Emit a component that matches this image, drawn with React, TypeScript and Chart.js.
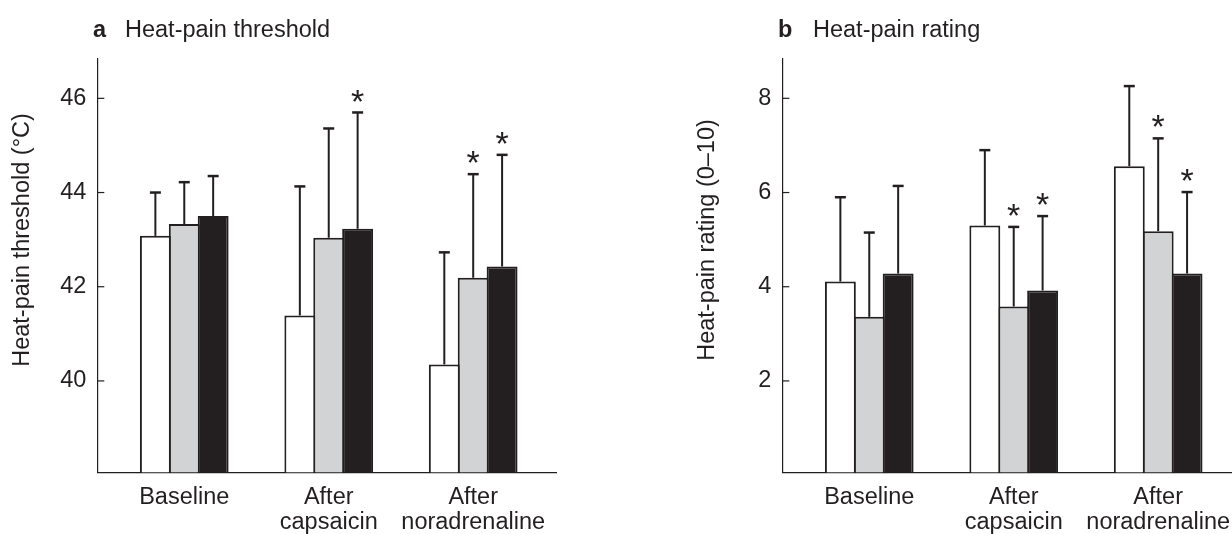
import React, { useEffect, useRef } from "react";
import { Chart, registerables } from "chart.js";

Chart.register(...registerables);

// ---------- data ----------
const categories = ["Baseline", "After capsaicin", "After noradrenaline"];
const categoryLines = [["Baseline"], ["After", "capsaicin"], ["After", "noradrenaline"]];
const seriesNames = ["White", "Grey", "Black"];

// Panel a: heat-pain threshold (°C), means and SDs
const thresholdWhite = [43.08, 41.39, 40.35];
const thresholdGrey = [43.33, 43.04, 42.19];
const thresholdBlack = [43.5, 43.23, 42.43];
const thresholdWhiteSD = [0.92, 2.74, 2.38];
const thresholdGreySD = [0.89, 2.32, 2.2];
const thresholdBlackSD = [0.85, 2.47, 2.37];
const thresholdWhiteSig = [false, false, false];
const thresholdGreySig = [false, false, true];
const thresholdBlackSig = [false, true, true];
const thresholdTicks = [40, 42, 44, 46];

// Panel b: heat-pain rating (0–10), means and SDs
const ratingWhite = [4.11, 5.3, 6.56];
const ratingGrey = [3.36, 3.58, 5.18];
const ratingBlack = [4.28, 3.92, 4.28];
const ratingWhiteSD = [1.79, 1.6, 1.7];
const ratingGreySD = [1.79, 1.69, 1.97];
const ratingBlackSD = [1.86, 1.58, 1.73];
const ratingWhiteSig = [false, false, false];
const ratingGreySig = [false, true, true];
const ratingBlackSig = [false, true, true];
const ratingTicks = [2, 4, 6, 8];

// ---------- style ----------
const INK = "#231f20";
const FILLS = ["#ffffff", "#d1d3d4", "#231f20"];
const FONT = '"Liberation Sans", Arial, Helvetica, sans-serif';
const FS = 23.5;

type PanelDef = {
  letter: string;
  title: string;
  yTitle: string;
  series: number[][];
  errors: number[][];
  sig: boolean[][];
  yTicks: number[];
  yMin: number;
  yMax: number;
  xMin: number;
  xMax: number;
  yAxisWidth: number;
  rightPad: number;
  letterX: number;
  titleX: number;
};

const panels: PanelDef[] = [
  {
    letter: "a",
    title: "Heat-pain threshold",
    yTitle: "Heat-pain threshold (\u00B0C)",
    series: [thresholdWhite, thresholdGrey, thresholdBlack],
    errors: [thresholdWhiteSD, thresholdGreySD, thresholdBlackSD],
    sig: [thresholdWhiteSig, thresholdGreySig, thresholdBlackSig],
    yTicks: thresholdTicks,
    yMin: 38.06,
    yMax: 46.85,
    xMin: -0.602,
    xMax: 2.578,
    yAxisWidth: 97.3,
    rightPad: 59.3,
    letterX: 93,
    titleX: 125,
  },
  {
    letter: "b",
    title: "Heat-pain rating",
    yTitle: "Heat-pain rating (0\u201310)",
    series: [ratingWhite, ratingGrey, ratingBlack],
    errors: [ratingWhiteSD, ratingGreySD, ratingBlackSD],
    sig: [ratingWhiteSig, ratingGreySig, ratingBlackSig],
    yTicks: ratingTicks,
    yMin: 0.06,
    yMax: 8.85,
    xMin: -0.602,
    xMax: 2.511,
    yAxisWidth: 166.3,
    rightPad: 0,
    letterX: 162,
    titleX: 197,
  },
];

const TOP = 58.3;
const BOTTOM = 472.3;
const W = 616;
const H = 534;

function makeDecor(p: PanelDef) {
  return {
    id: "decor",
    afterDatasetsDraw(chart: any) {
      const ctx = chart.ctx as CanvasRenderingContext2D;
      const ys = chart.scales.y;
      ctx.save();
      ctx.strokeStyle = INK;
      ctx.fillStyle = INK;
      chart.data.datasets.forEach((_ds: any, d: number) => {
        const meta = chart.getDatasetMeta(d);
        meta.data.forEach((bar: any, j: number) => {
          const mean = p.series[d][j];
          const top = ys.getPixelForValue(mean + p.errors[d][j]);
          const x = bar.x;
          ctx.lineWidth = 2;
          ctx.beginPath();
          ctx.moveTo(x, bar.y);
          ctx.lineTo(x, top);
          ctx.stroke();
          ctx.lineWidth = 2.5;
          ctx.beginPath();
          ctx.moveTo(x - 5.5, top);
          ctx.lineTo(x + 5.5, top);
          ctx.stroke();
          if (p.sig[d][j]) {
            const size = 34;
            ctx.font = `${size}px ${FONT}`;
            ctx.textAlign = "center";
            ctx.textBaseline = "alphabetic";
            ctx.fillText("*", x, top - 19 + 0.56 * size);
          }
        });
      });
      ctx.restore();
    },
    afterDraw(chart: any) {
      const ctx = chart.ctx as CanvasRenderingContext2D;
      const ys = chart.scales.y;
      const area = chart.chartArea;
      ctx.save();
      ctx.strokeStyle = INK;
      ctx.fillStyle = INK;
      // inner tick marks
      ctx.lineWidth = 1.2;
      p.yTicks.forEach((v) => {
        const py = ys.getPixelForValue(v);
        ctx.beginPath();
        ctx.moveTo(area.left, py);
        ctx.lineTo(area.left + 7, py);
        ctx.stroke();
      });
      // panel title
      ctx.textAlign = "left";
      ctx.textBaseline = "alphabetic";
      ctx.font = `bold ${FS}px ${FONT}`;
      ctx.fillText(p.letter, p.letterX, 37);
      ctx.font = `${FS}px ${FONT}`;
      ctx.fillText(p.title, p.titleX, 37);
      // y axis title
      ctx.translate(area.left - 75, 240);
      ctx.rotate(-Math.PI / 2);
      ctx.textAlign = "center";
      ctx.textBaseline = "middle";
      ctx.fillText(p.yTitle, 0, 0);
      ctx.restore();
    },
  };
}

function Panel({ p, left }: { p: PanelDef; left: number }) {
  const ref = useRef<HTMLCanvasElement | null>(null);
  useEffect(() => {
    if (!ref.current) return;
    const datasets = p.series.map((vals, d) => ({
      label: seriesNames[d],
      data: vals.map((v, j) => ({ x: j, y: v })),
      backgroundColor: FILLS[d],
      borderColor: INK,
      borderWidth: 2,
      borderSkipped: "start" as const,
      categoryPercentage: 0.6,
      barPercentage: 1.07,
    }));
    const chart = new Chart(ref.current, {
      type: "bar",
      data: { datasets },
      options: {
        responsive: false,
        animation: false,
        events: [],
        layout: { padding: { top: TOP, right: p.rightPad, bottom: 0, left: 0 } },
        plugins: {
          legend: { display: false },
          tooltip: { enabled: false },
          title: { display: false },
        },
        scales: {
          x: {
            type: "linear",
            offset: false,
            min: p.xMin,
            max: p.xMax,
            grid: { display: false, drawTicks: false },
            border: { display: true, color: INK, width: 1.2 },
            afterBuildTicks: (s: any) => {
              s.ticks = categories.map((_c, i) => ({ value: i }));
            },
            afterFit: (s: any) => {
              s.height = H - BOTTOM;
              s.paddingLeft = 0;
              s.paddingRight = 0;
            },
            ticks: {
              autoSkip: false,
              maxRotation: 0,
              minRotation: 0,
              padding: 13,
              color: INK,
              font: { family: FONT, size: FS, lineHeight: 1.05 },
              callback: (v: any) => categoryLines[Math.round(Number(v))] ?? "",
            },
          },
          y: {
            type: "linear",
            min: p.yMin,
            max: p.yMax,
            beginAtZero: false,
            grid: { display: false, drawTicks: false },
            border: { display: true, color: INK, width: 1.2 },
            afterBuildTicks: (s: any) => {
              s.ticks = p.yTicks.map((v) => ({ value: v }));
            },
            afterFit: (s: any) => {
              s.width = p.yAxisWidth;
              s.paddingTop = 0;
              s.paddingBottom = 0;
            },
            ticks: {
              padding: 11,
              color: INK,
              font: { family: FONT, size: FS },
              callback: (v: any) => String(v),
            },
          },
        },
      },
      plugins: [makeDecor(p)],
    });
    return () => chart.destroy();
  }, [p]);
  return (
    <canvas
      ref={ref}
      width={W}
      height={H}
      style={{ position: "absolute", left, top: 0, width: W, height: H, display: "block" }}
    />
  );
}

export default function App() {
  return (
    <div
      style={{
        position: "absolute",
        left: 0,
        top: 0,
        width: 1232,
        height: 534,
        background: "#ffffff",
        overflow: "hidden",
      }}
    >
      <Panel p={panels[0]} left={0} />
      <Panel p={panels[1]} left={616} />
    </div>
  );
}
